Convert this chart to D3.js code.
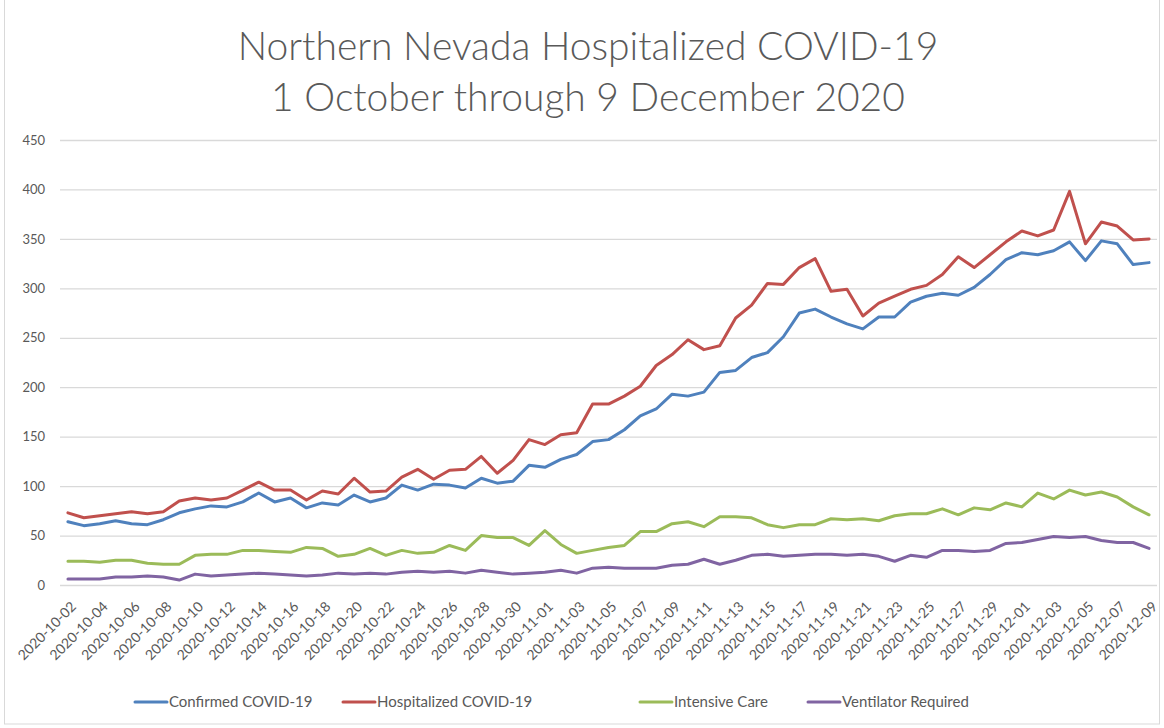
<!DOCTYPE html>
<html>
<head>
<meta charset="utf-8">
<script src="https://cdn.jsdelivr.net/npm/d3@7"></script>
<style>
  body { margin: 0; background: #fff; }
  svg { display: block; font-family: Lato, "Open Sans", sans-serif; }
</style>
</head>
<body>
<svg id="chart" width="1164" height="728"></svg>
<script>
const dates = [
  "2020-10-02","2020-10-03","2020-10-04","2020-10-05","2020-10-06","2020-10-07","2020-10-08","2020-10-09","2020-10-10","2020-10-11",
  "2020-10-12","2020-10-13","2020-10-14","2020-10-15","2020-10-16","2020-10-17","2020-10-18","2020-10-19","2020-10-20","2020-10-21",
  "2020-10-22","2020-10-23","2020-10-24","2020-10-25","2020-10-26","2020-10-27","2020-10-28","2020-10-29","2020-10-30","2020-10-31",
  "2020-11-01","2020-11-02","2020-11-03","2020-11-04","2020-11-05","2020-11-06","2020-11-07","2020-11-08","2020-11-09","2020-11-10",
  "2020-11-11","2020-11-12","2020-11-13","2020-11-14","2020-11-15","2020-11-16","2020-11-17","2020-11-18","2020-11-19","2020-11-20",
  "2020-11-21","2020-11-22","2020-11-23","2020-11-24","2020-11-25","2020-11-26","2020-11-27","2020-11-28","2020-11-29","2020-11-30",
  "2020-12-01","2020-12-02","2020-12-03","2020-12-04","2020-12-05","2020-12-06","2020-12-07","2020-12-08","2020-12-09"
];

const confirmed = [
  64, 60, 62, 65, 62, 61, 66, 73, 77, 80,
  79, 84, 93, 84, 88, 78, 83, 81, 91, 84,
  88, 101, 96, 102, 101, 98, 108, 103, 105, 121,
  119, 127, 132, 145, 147, 157, 171, 178, 193, 191,
  195, 215, 217, 230, 235, 251, 275, 279, 271, 264,
  259, 271, 271, 286, 292, 295, 293, 301, 314, 329,
  336, 334, 338, 347, 328, 348, 345, 324, 326
];
const hospitalized = [
  73, 68, 70, 72, 74, 72, 74, 85, 88, 86,
  88, 96, 104, 96, 96, 86, 95, 92, 108, 94,
  95, 109, 117, 107, 116, 117, 130, 113, 126, 147,
  142, 152, 154, 183, 183, 191, 201, 222, 233, 248,
  238, 242, 270, 283, 305, 304, 321, 330, 297, 299,
  272, 285, 292, 299, 303, 314, 332, 321, 334, 347,
  358, 353, 359, 398, 345, 367, 363, 349, 350
];
const intensiveCare = [
  24, 24, 23, 25, 25, 22, 21, 21, 30, 31,
  31, 35, 35, 34, 33, 38, 37, 29, 31, 37,
  30, 35, 32, 33, 40, 35, 50, 48, 48, 40,
  55, 41, 32, 35, 38, 40, 54, 54, 62, 64,
  59, 69, 69, 68, 61, 58, 61, 61, 67, 66,
  67, 65, 70, 72, 72, 77, 71, 78, 76, 83,
  79, 93, 87, 96, 91, 94, 89, 79, 71
];
const ventilator = [
  6, 6, 6, 8, 8, 9, 8, 5, 11, 9,
  10, 11, 12, 11, 10, 9, 10, 12, 11, 12,
  11, 13, 14, 13, 14, 12, 15, 13, 11, 12,
  13, 15, 12, 17, 18, 17, 17, 17, 20, 21,
  26, 21, 25, 30, 31, 29, 30, 31, 31, 30,
  31, 29, 24, 30, 28, 35, 35, 34, 35, 42,
  43, 46, 49, 48, 49, 45, 43, 43, 37
];

const seriesNames = ["Confirmed COVID-19", "Hospitalized COVID-19", "Intensive Care", "Ventilator Required"];
const seriesColors = ["#4F81BD", "#C0504D", "#9BBB59", "#8064A2"];
const yTicks = [0, 50, 100, 150, 200, 250, 300, 350, 400, 450];
const titleLines = ["Northern Nevada Hospitalized COVID-19", "1 October through 9 December 2020"];

const series = [confirmed, hospitalized, intensiveCare, ventilator];

const svg = d3.select("#chart");
const textColor = "#595959";

// chart border
svg.append("rect")
  .attr("x", 4.5).attr("y", -1)
  .attr("width", 1155).attr("height", 725)
  .attr("fill", "none").attr("stroke", "#d9d9d9");

const x = d3.scalePoint().domain(dates).range([60, 1157]).padding(0.5);
const y = d3.scaleLinear().domain([0, 450]).range([585, 140]);

// title
svg.append("g").selectAll("text")
  .data(titleLines)
  .enter().append("text")
  .attr("x", 588)
  .attr("y", (d, i) => 60 + i * 51)
  .attr("text-anchor", "middle")
  .attr("fill", textColor)
  .style("font-size", "39px")
  .style("font-weight", 300)
  .text(d => d);

// gridlines + y labels
const yAxis = svg.append("g")
  .attr("transform", "translate(60,0)")
  .call(d3.axisLeft(y).tickValues(yTicks).tickSize(-1097).tickPadding(15));
yAxis.select(".domain").remove();
yAxis.selectAll(".tick line").attr("stroke", "#d9d9d9").attr("stroke-width", 1.3);
yAxis.selectAll(".tick text")
  .attr("fill", textColor)
  .style("font-size", "13px")
  .style("font-family", "Lato, sans-serif");

// x labels, every second day
const xAxis = svg.append("g")
  .attr("transform", "translate(0,585)")
  .call(d3.axisBottom(x).tickValues(dates.filter((d, i) => i % 2 === 0)).tickSize(0));
xAxis.select(".domain").remove();
xAxis.selectAll(".tick text")
  .attr("fill", textColor)
  .style("font-size", "14px")
  .style("font-family", "Lato, sans-serif")
  .attr("text-anchor", "end")
  .attr("dy", "0.35em")
  .attr("transform", "translate(3,17) rotate(-45)");

// lines
const line = d3.line()
  .x((d, i) => x(dates[i]))
  .y(d => y(d));

svg.append("g").selectAll("path")
  .data(series)
  .enter().append("path")
  .attr("d", line)
  .attr("fill", "none")
  .attr("stroke", (d, i) => seriesColors[i])
  .attr("stroke-width", 3)
  .attr("stroke-linejoin", "round")
  .attr("stroke-linecap", "round");

// legend
const legendX = [135, 343, 640, 808];
const legend = svg.append("g").selectAll("g")
  .data(seriesNames)
  .enter().append("g")
  .attr("transform", (d, i) => `translate(${legendX[i]},702)`);
legend.append("line")
  .attr("x1", 0).attr("x2", 32)
  .attr("stroke", (d, i) => seriesColors[i])
  .attr("stroke-width", 3)
  .attr("stroke-linecap", "round");
legend.append("text")
  .attr("x", 34)
  .attr("dy", "0.35em")
  .attr("fill", textColor)
  .style("font-size", "15px")
  .text(d => d);
</script>
</body>
</html>
